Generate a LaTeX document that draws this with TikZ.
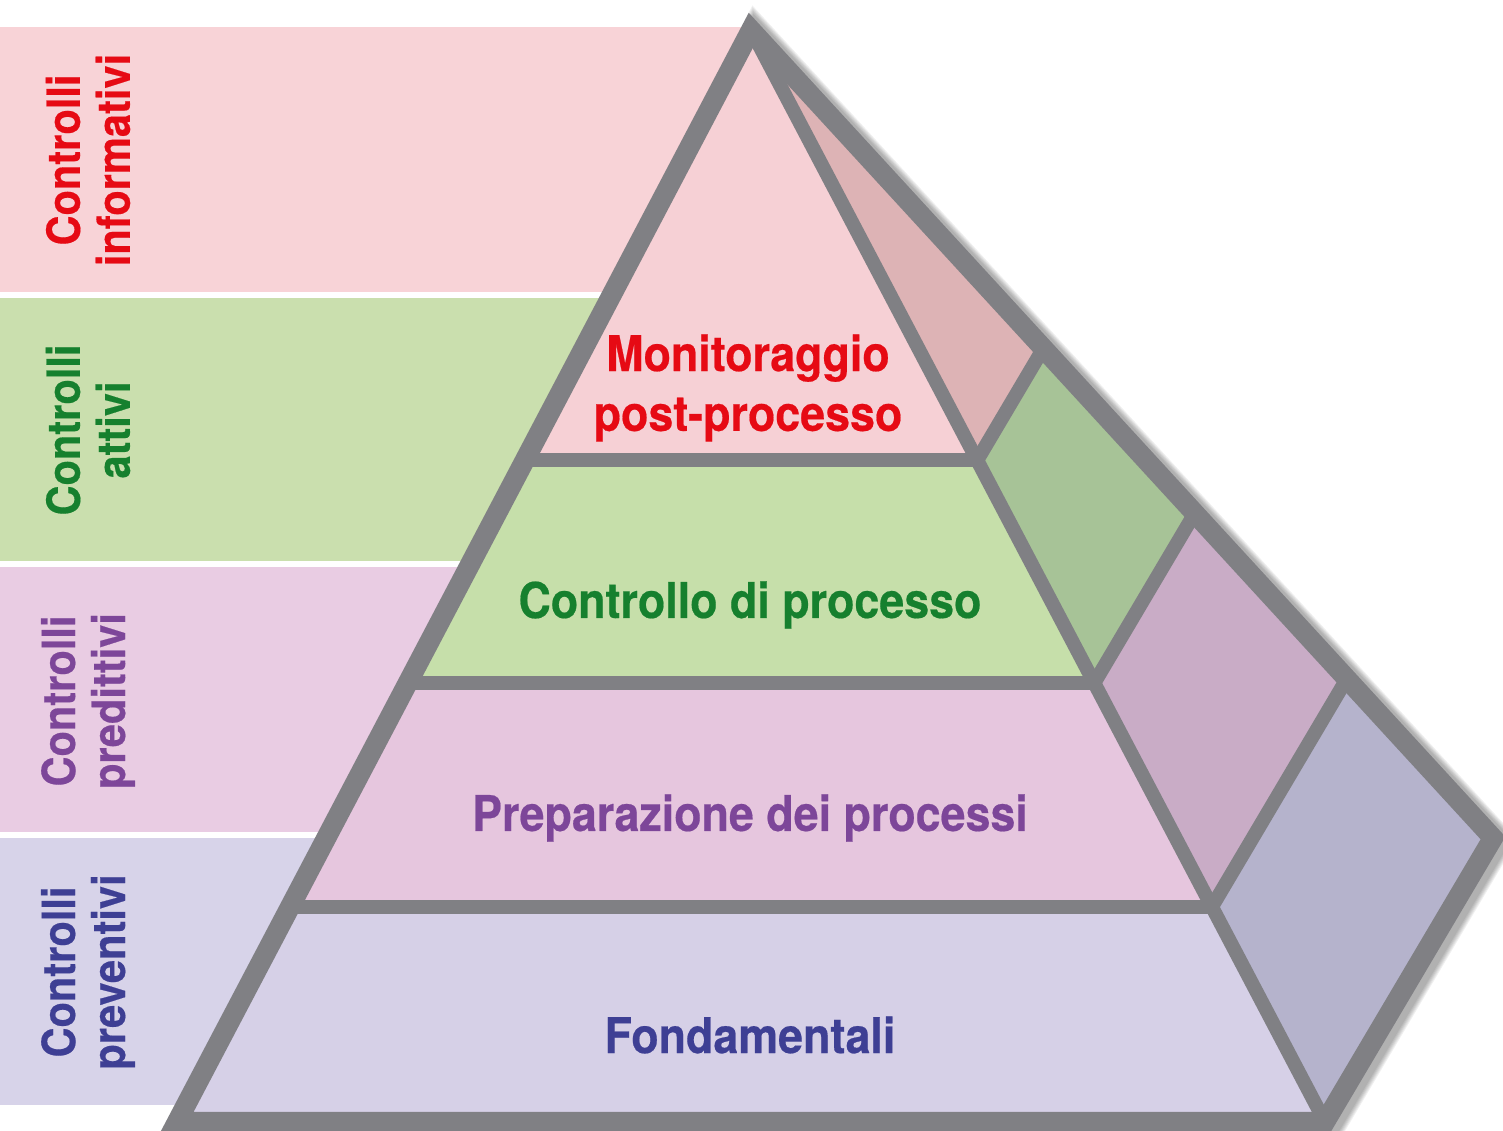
\documentclass[tikz,border=0pt]{standalone}
\usepackage{fontspec}
\setmainfont{TeX Gyre Heros}[FakeStretch=0.91,BoldFeatures={FakeBold=0.4}]
\usetikzlibrary{calc}

\definecolor{bandred}{HTML}{F8D3D7}
\definecolor{bandgreen}{HTML}{CADFAE}
\definecolor{bandpurple}{HTML}{E9CCE3}
\definecolor{bandblue}{HTML}{D7D3E9}
\definecolor{frontred}{HTML}{F6D0D5}
\definecolor{frontgreen}{HTML}{C6DFAA}
\definecolor{frontpurple}{HTML}{E6C6DE}
\definecolor{frontblue}{HTML}{D6D0E7}
\definecolor{sidered}{HTML}{DDB3B5}
\definecolor{sidegreen}{HTML}{A7C397}
\definecolor{sidepurple}{HTML}{C9ACC6}
\definecolor{sideblue}{HTML}{B5B3CC}
\definecolor{rimgray}{HTML}{808084}
\definecolor{txtred}{HTML}{E60A14}
\definecolor{txtgreen}{HTML}{16802E}
\definecolor{txtpurple}{HTML}{7D4699}
\definecolor{txtblue}{HTML}{3E3F94}

\begin{document}
\begin{tikzpicture}[x=0.01cm,y=-0.01cm]
 \tikzset{edge/.style={draw=rimgray,line width=0.14cm},
  rim/.style={draw=rimgray,line width=0.2cm,line join=miter},
  sidelbl/.style={rotate=90,align=center,inner sep=0pt,
   font=\bfseries\fontsize{13}{14.2}\selectfont},
  facelbl/.style={align=center,inner sep=0pt,
   font=\bfseries\fontsize{14}{17}\selectfont}}
 \useasboundingbox (0,0) rectangle (1503,1131);

 % bands on the left
 \fill[bandred] (0,27) rectangle (760,292);
 \fill[bandgreen] (0,298) rectangle (760,561);
 \fill[bandpurple] (0,567) rectangle (760,832);
 \fill[bandblue] (0,838) rectangle (760,1105);

 \coordinate (A) at (751,30);
 \coordinate (L) at (177,1122);
 \coordinate (B) at (1325,1122);
 \coordinate (R) at (1493,838);
 \foreach \t/\n in {0.394/1,0.598/2,0.803/3}{
  \coordinate (l\n) at ($(A)!\t!(L)$);
  \coordinate (b\n) at ($(A)!\t!(B)$);
  \coordinate (r\n) at ($(A)!\t!(R)$);
 }

 % soft shadow
 \foreach \k in {1,...,6}
  \draw[black,opacity=0.06,line width={0.2cm+\k*0.02cm},line join=miter]
   ([shift={(5,3)}]A) -- ([shift={(5,3)}]R) -- ([shift={(5,3)}]B)
   -- ([shift={(5,3)}]L) -- cycle;

 % front faces
 \fill[frontred] (A) -- (l1) -- (b1) -- cycle;
 \fill[frontgreen] (l1) -- (l2) -- (b2) -- (b1) -- cycle;
 \fill[frontpurple] (l2) -- (l3) -- (b3) -- (b2) -- cycle;
 \fill[frontblue] (l3) -- (L) -- (B) -- (b3) -- cycle;
 % side faces
 \fill[sidered] (A) -- (b1) -- (r1) -- cycle;
 \fill[sidegreen] (b1) -- (b2) -- (r2) -- (r1) -- cycle;
 \fill[sidepurple] (b2) -- (b3) -- (r3) -- (r2) -- cycle;
 \fill[sideblue] (b3) -- (B) -- (R) -- (r3) -- cycle;

 \draw[edge] (A) -- (B);
 \foreach \n in {1,2,3}{
  \draw[edge] (l\n) -- (b\n);
  \draw[edge] (b\n) -- (r\n);
 }
 \draw[rim] (A) -- (R) -- (B) -- (L) -- cycle;

 % labels
 \node[sidelbl,text=txtred] (inf) at (88,160) {Controlli\\informativi};
 \node[sidelbl,text=txtgreen] (att) at (88,430) {Controlli\\attivi};
 \node[sidelbl,text=txtpurple] (pre) at (88,701) {Controlli\\predittivi};
 \node[sidelbl,text=txtblue] (prv) at (88,972) {Controlli\\preventivi};

 \node[facelbl,text=txtred] (mon) at (748,388) {Monitoraggio\\post-processo};
 \node[facelbl,text=txtgreen] (ctl) at (750,605) {Controllo di processo};
 \node[facelbl,text=txtpurple] (prp) at (750,818) {Preparazione dei processi};
 \node[facelbl,text=txtblue] (fnd) at (750,1035) {Fondamentali};
\end{tikzpicture}
\end{document}
